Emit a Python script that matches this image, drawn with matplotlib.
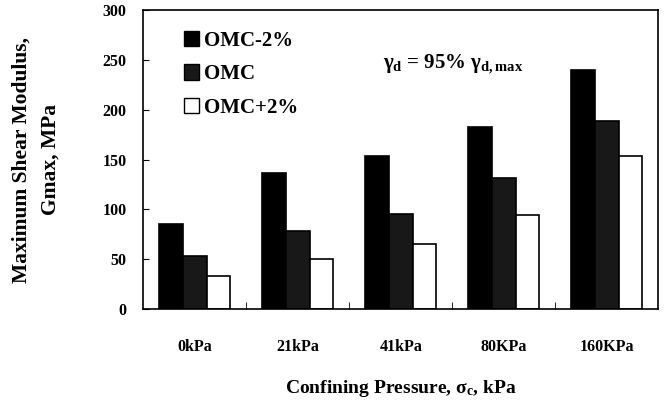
import numpy as np
import matplotlib
matplotlib.use("Agg")
import matplotlib.pyplot as plt
from matplotlib.patches import Patch

plt.rcParams["font.family"] = "Liberation Serif"
plt.rcParams["font.weight"] = "bold"
plt.rcParams["axes.labelweight"] = "bold"
plt.rcParams["mathtext.fontset"] = "custom"
plt.rcParams["mathtext.rm"] = "Liberation Serif:bold"
plt.rcParams["mathtext.it"] = "Liberation Serif:bold"
plt.rcParams["mathtext.bf"] = "Liberation Serif:bold"

# data
pressures = ["0kPa", "21kPa", "41kPa", "80KPa", "160KPa"]
omc_minus2 = [85, 136, 154, 183, 240]
omc = [53, 78, 95, 131, 189]
omc_plus2 = [33, 50, 65, 94, 154]
series_names = ["OMC-2%", "OMC", "OMC+2%"]

fig = plt.figure(figsize=(6.69, 4.08), dpi=100)
ax = fig.add_axes([0.214, 0.243, 0.770, 0.732])

x = np.arange(len(pressures))
w = 0.23
colors = ["#000000", "#181818", "#ffffff"]
for i, (vals, c) in enumerate(zip([omc_minus2, omc, omc_plus2], colors)):
    ax.bar(x + (i - 1) * w, vals, width=w, color=c, edgecolor="black", linewidth=1.2)

ax.set_xlim(-0.5, len(pressures) - 0.5)
ax.set_ylim(0, 300)
ax.set_yticks(np.arange(0, 301, 50))
ax.tick_params(axis="y", direction="in", length=4, labelsize=11.5, pad=12)
ax.set_xticks(x)
ax.set_xticklabels(pressures)
ax.tick_params(axis="x", length=0, labelsize=11.5, pad=22)
ax.set_xticks(np.arange(0.5, len(pressures) - 0.5, 1), minor=True)
ax.tick_params(axis="x", which="minor", direction="in", length=5)
for s in ax.spines.values():
    s.set_linewidth(1.2)

ax.set_ylabel("Maximum Shear Modulus,\nGmax, MPa", fontsize=15.5, labelpad=30,
              linespacing=1.6)
ax.set_xlabel(r"Confining Pressure, $\sigma_c$, kPa", fontsize=14, labelpad=16)

handles = [Patch(facecolor=c, edgecolor="black", linewidth=1.0) for c in colors]
ax.legend(handles, series_names, loc="upper left", frameon=False, fontsize=15,
          handlelength=0.75, handleheight=0.75, handletextpad=0.25,
          labelspacing=0.65, borderaxespad=0.3, bbox_to_anchor=(0.05, 0.98))

ax.text(0.465, 0.82, r"$\gamma_{\mathrm{d}}$ = 95% $\gamma_{\mathrm{d,max}}$",
        transform=ax.transAxes, fontsize=15, ha="left", va="center")

fig.savefig("out.png", dpi=100)
